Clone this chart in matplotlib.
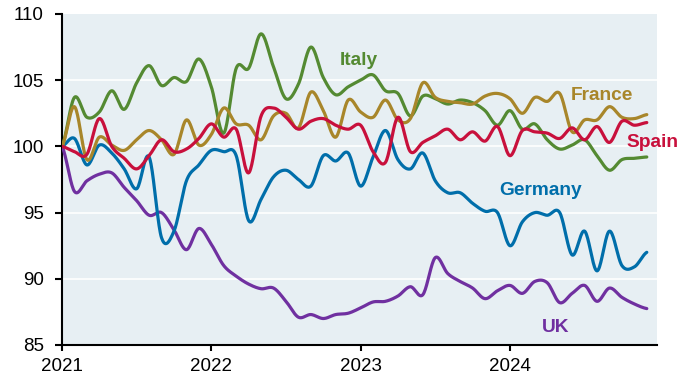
import numpy as np
import matplotlib
matplotlib.use("Agg")
import matplotlib.pyplot as plt

plt.rcParams['font.family'] = ['Liberation Sans', 'DejaVu Sans']

start_year = 2021
n_months = 48

italy = [100.0, 103.7, 102.2, 102.6, 104.2, 102.8, 104.8, 106.1, 104.6, 105.2,
         104.9, 106.6, 104.5, 101.0, 105.9, 105.9, 108.5, 106.0, 103.6, 104.7,
         107.5, 105.2, 103.9, 104.5, 105.0, 105.4, 104.2, 104.0, 102.3, 103.8,
         103.6, 103.2, 103.5, 103.3, 102.7, 101.6, 102.7, 101.3, 101.7, 100.5,
         99.8, 100.1, 100.5, 99.3, 98.2, 99.0, 99.1, 99.2]
france = [100.0, 103.0, 99.0, 100.7, 100.1, 99.7, 100.5, 101.2, 100.5, 99.4,
          102.0, 100.1, 100.9, 102.9, 101.7, 101.6, 100.5, 102.3, 102.5, 101.4,
          104.1, 102.7, 100.7, 103.5, 102.6, 102.2, 103.5, 102.0, 102.1, 104.8,
          103.7, 103.4, 103.3, 103.2, 103.8, 104.0, 103.6, 102.5, 103.7, 103.4,
          104.0, 101.1, 102.0, 102.0, 103.0, 102.2, 102.1, 102.4]
spain = [100.0, 99.6, 99.4, 102.1, 100.0, 99.1, 98.3, 99.3, 100.5, 99.6,
         99.8, 100.6, 101.7, 100.7, 101.3, 98.0, 102.3, 102.9, 102.2, 101.3,
         101.9, 102.1, 101.6, 101.3, 101.6, 99.6, 98.8, 102.2, 99.6, 100.3,
         100.8, 101.3, 100.5, 101.1, 100.4, 101.5, 99.3, 101.2, 101.1, 101.0,
         100.6, 101.4, 100.5, 101.5, 100.3, 101.9, 101.6, 101.8]
germany = [100.0, 100.6, 98.6, 100.1, 99.5, 98.3, 96.8, 99.2, 93.1, 93.6,
           97.4, 98.6, 99.7, 99.6, 99.3, 94.4, 96.0, 97.7, 98.2, 97.5,
           97.0, 99.3, 98.9, 99.5, 97.0, 99.2, 101.2, 99.0, 98.3, 99.5,
           97.4, 96.5, 96.5, 95.7, 95.1, 95.0, 92.5, 94.3, 95.0, 94.8,
           95.0, 91.8, 93.6, 90.6, 93.6, 91.0, 90.9, 92.0]
uk = [100.0, 96.6, 97.4, 97.9, 98.0, 96.9, 95.9, 94.8, 95.0, 93.7,
      92.2, 93.8, 92.6, 91.0, 90.2, 89.6, 89.25, 89.3, 88.3, 87.1,
      87.3, 87.0, 87.3, 87.4, 87.8, 88.25, 88.3, 88.7, 89.4, 88.8,
      91.6, 90.4, 89.8, 89.3, 88.5, 89.1, 89.5, 88.9, 89.8, 89.7,
      88.2, 88.9, 89.5, 88.3, 89.3, 88.6, 88.1, 87.75]

series_names = ["UK", "Germany", "Italy", "France", "Spain"]
series_values = [uk, germany, italy, france, spain]
series_colors = ["#7030A0", "#006EAA", "#548A32", "#A8862A", "#C8103C"]

year_ticks = [2021, 2022, 2023, 2024]
year_labels = ["2021", "2022", "2023", "2024"]
y_ticks = [85, 90, 95, 100, 105, 110]


def smooth(x, y, per=20):
    x = np.asarray(x, float)
    y = np.asarray(y, float)
    yp = np.concatenate([[y[0]], y, [y[-1]]])
    xs, ys = [], []
    t = np.linspace(0, 1, per, endpoint=False)
    for k in range(len(y) - 1):
        p0, p1, p2, p3 = yp[k], yp[k + 1], yp[k + 2], yp[k + 3]
        seg = 0.5 * ((2 * p1) + (-p0 + p2) * t + (2 * p0 - 5 * p1 + 4 * p2 - p3) * t ** 2
                     + (-p0 + 3 * p1 - 3 * p2 + p3) * t ** 3)
        xs.append(x[k] + (x[k + 1] - x[k]) * t)
        ys.append(seg)
    xs.append([x[-1]])
    ys.append([y[-1]])
    return np.concatenate(xs), np.concatenate(ys)


fig = plt.figure(figsize=(6.8, 3.77), dpi=100)
ax = fig.add_axes([62 / 680, 1 - 345 / 377, (657 - 62) / 680, (345 - 14) / 377])
ax.set_facecolor("#E7EFF3")

x = start_year + np.arange(n_months) / 12.0
for name, vals, col in zip(series_names, series_values, series_colors):
    sx, sy = smooth(x, vals)
    ax.plot(sx, sy, color=col, lw=2.3, solid_capstyle="round", zorder=3)

ax.set_xlim(2021, 2024.985)
ax.set_ylim(85, 110)
ax.set_yticks(y_ticks)
ax.set_xticks(year_ticks)
ax.set_xticklabels(year_labels)
for yv in [90, 95, 100, 105]:
    ax.axhline(yv, color="white", lw=1.2, zorder=1)

for s in ["top", "right"]:
    ax.spines[s].set_visible(False)
for s in ["left", "bottom"]:
    ax.spines[s].set_linewidth(1.5)
    ax.spines[s].set_color("black")
ax.tick_params(axis="y", direction="out", length=5, width=1.5, labelsize=13.5, pad=8)
ax.tick_params(axis="x", direction="out", length=4.5, width=1.5, labelsize=13.5, pad=5)

label_kw = dict(fontsize=13.8, fontweight="bold", ha="center", va="baseline", zorder=5)
ax.text(2022.99, 106.12, "Italy", color=series_colors[2], **label_kw)
ax.text(2024.617, 103.53, "France", color=series_colors[3], **label_kw)
ax.text(2024.958, 99.95, "Spain", color=series_colors[4], clip_on=False, **label_kw)
ax.text(2024.204, 96.3, "Germany", color=series_colors[1], **label_kw)
ax.text(2024.307, 85.97, "UK", color=series_colors[0], **label_kw)

fig.savefig("out.png", dpi=100)
